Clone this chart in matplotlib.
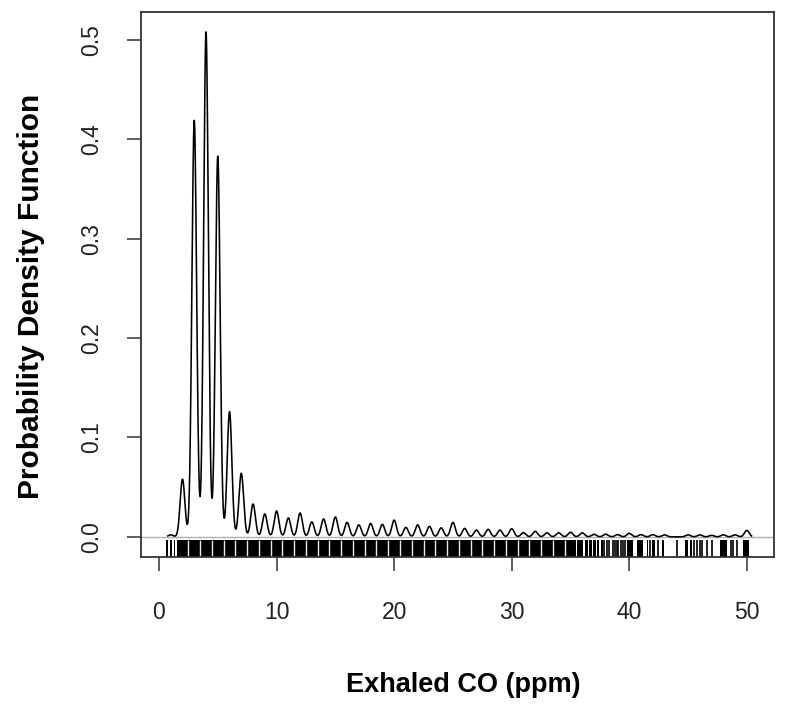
import numpy as np
import matplotlib
matplotlib.use("Agg")
import matplotlib.pyplot as plt

plt.rcParams['font.family'] = ['Liberation Sans', 'DejaVu Sans']

# Exhaled CO values (ppm) and the density peak height read at each value
co_values = [1, 2, 3, 4, 5, 6, 7, 8, 9, 10,
             11, 12, 13, 14, 15, 16, 17, 18, 19, 20,
             21, 22, 23, 24, 25, 26, 27, 28, 29, 30,
             31, 32, 33, 34, 35, 36, 37, 38, 39, 40,
             41, 42, 43, 45, 46, 47, 48, 49, 50]
peak_density = [0.002, 0.058, 0.419, 0.508, 0.383, 0.126, 0.064, 0.033, 0.023, 0.026,
                0.019, 0.024, 0.015, 0.018, 0.020, 0.0145, 0.012, 0.0135, 0.0125, 0.0168,
                0.0095, 0.012, 0.0105, 0.009, 0.0145, 0.0085, 0.0068, 0.0075, 0.0068, 0.0082,
                0.0042, 0.0055, 0.004, 0.004, 0.0046, 0.004, 0.0025, 0.0026, 0.0022, 0.0035,
                0.0022, 0.0022, 0.002, 0.002, 0.002, 0.0015, 0.002, 0.002, 0.0065]
bandwidth = 0.2

# Rug: dense (jittered) blocks per value, plus individual rug ticks
rug_block_values = [2, 3, 4, 5, 6, 7, 8, 9, 10, 11, 12, 13, 14, 15, 16, 17, 18,
                    19, 20, 21, 22, 23, 24, 25, 26, 27, 28, 29, 30, 31, 32, 33,
                    34, 35]
rug_segments = [(0.61, 0.80), (0.94, 1.08), (1.28, 1.39),
                (35.53, 36.10), (36.24, 36.47), (36.61, 36.81), (36.95, 37.15),
                (37.29, 37.46), (37.58, 37.75), (39.84, 40.35), (40.69, 41.20),
                (41.49, 41.63), (41.91, 42.20), (42.77, 42.96), (44.75, 45.03),
                (45.17, 45.32), (47.72, 48.29), (49.65, 50.22)]
rug_ticks = [37.86, 38.09, 38.31, 38.6, 38.79, 38.94, 39.08, 39.28, 39.45, 39.64,
             41.77, 42.48, 44.04, 45.51, 45.74, 46.02, 46.17, 46.59, 47.02,
             48.63, 48.86, 49.14]

x_ticks = [0, 10, 20, 30, 40, 50]
y_ticks = [0.0, 0.1, 0.2, 0.3, 0.4, 0.5]

fig = plt.figure(figsize=(8, 7.08), dpi=100)
ax = fig.add_axes([141/800, 1-557/708, (774-141)/800, (557-12)/708])

xs = np.linspace(0.75, 50.4, 6000)
dens = np.zeros_like(xs)
for v, h in zip(co_values, peak_density):
    dens += h * np.exp(-0.5 * ((xs - v) / bandwidth) ** 2)

ax.axhline(0, color='#b0b0b0', lw=1.0, zorder=1)
ax.plot(xs, dens, color='black', lw=1.15, zorder=3)

xt = ax.get_xaxis_transform()
rug_h = 0.031
for v in rug_block_values:
    ax.axvspan(v - 0.5, v + 0.5, ymin=0, ymax=rug_h, color='black', lw=0)
ax.vlines([v - 0.5 for v in rug_block_values[1:]], 0, rug_h, transform=xt,
          color='#e8e8e8', lw=1.0, zorder=3)
for a, b in rug_segments:
    ax.axvspan(a, b, ymin=0, ymax=rug_h, color='black', lw=0)
ax.vlines(rug_ticks, 0, rug_h, transform=xt, color='black', lw=1.2)

ax.set_xlim(-1.53, 52.31)
ax.set_ylim(-0.0203, 0.528)
ax.set_xticks(x_ticks)
ax.set_xticklabels([str(t) for t in x_ticks])
ax.set_yticks(y_ticks)
ax.set_yticklabels(['%.1f' % t for t in y_ticks], rotation=90, va='center')

for s in ax.spines.values():
    s.set_color('#333333')
    s.set_linewidth(1.3)
    s.set_zorder(5)
ax.tick_params(axis='both', length=10, width=1.1, color='#333333', labelsize=16.5,
               labelcolor='#222222')
ax.tick_params(axis='x', pad=22)
ax.tick_params(axis='y', pad=17)

ax.set_xlabel('Exhaled CO (ppm)', fontsize=19.5, fontweight='bold')
ax.set_ylabel('Probability Density Function', fontsize=21.5, fontweight='bold')
ax.xaxis.set_label_coords((463 - 141) / 633, (557 - 685) / 545)
ax.yaxis.set_label_coords((31 - 141) / 633, (557 - 296) / 545)
ax.xaxis.label.set_va('center')
ax.yaxis.label.set_va('center')

fig.savefig('out.png', dpi=100)
